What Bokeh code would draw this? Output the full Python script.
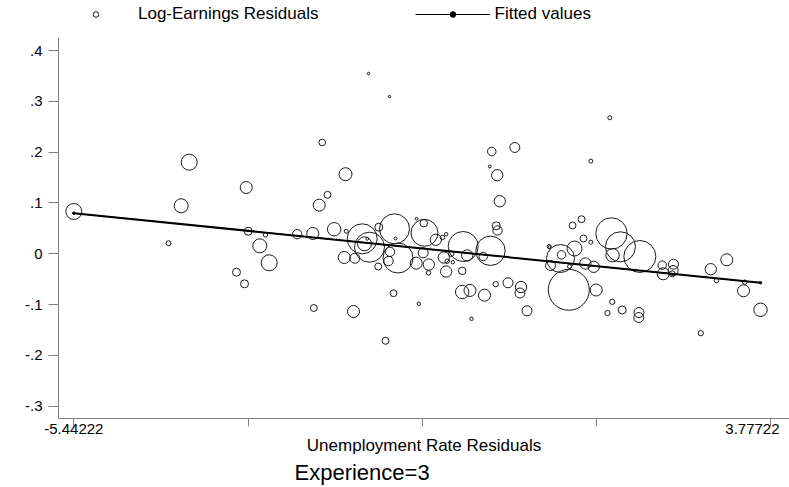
import math
from bokeh.plotting import figure
from bokeh.models import (FixedTicker, Legend, LegendItem, Range1d, ColumnDataSource,
                          LinearAxis, Title)
from bokeh.embed import file_html
from bokeh.resources import INLINE

# ---------------- data ----------------
unemp_resid = [
    -5.442, -3.916, -3.162, -4.022, -4.190, -3.136, -2.983, -3.291, -3.185,
    -2.157, -1.849, -2.087, -2.197, -2.907, -2.858, -2.488, -2.282, -1.999,
    -1.840, -1.628, -1.598, -1.562, -1.532, -1.201, -1.409, -1.188, -1.155,
    -1.866, -1.726, -1.417, -1.281, -1.261, -1.215, -2.268, -1.743, -1.320,
    -1.545, -1.267,
    0.085, 0.390, 0.059, 0.157, 0.191, 0.144, 0.161, -0.910, -0.814, -0.805,
    -0.655, -0.567, -0.518, -0.822, -0.914, -0.748, -0.752, -0.293, -0.549,
    -0.451, -0.504, -0.430, -0.240, -0.028, 0.068, -0.518, -0.306, -0.306,
    -0.203, -0.011, 0.138, 0.300, 0.472, 0.458, 0.551, -0.880, -0.183, 0.848,
    1.395, 1.272, 1.153, 1.298, 1.395, 0.844, 1.007, 0.994, 1.179, 0.862,
    1.113, 1.324, 1.434, 1.104, 1.466, 1.668, 1.787, 1.682, 2.043, 2.339,
    2.488, 2.352, 2.484, 2.471, 1.678, 1.810, 1.615, 2.032, 2.029, 1.646,
    3.193, 2.981, 3.057, 3.431, 3.414, 3.639, 2.849,
]
earn_resid = [
    0.0833, 0.1803, 0.1305, 0.0945, 0.0209, 0.0445, 0.0157, -0.0362, -0.0591,
    0.2191, 0.1567, 0.1161, 0.0957, 0.0374, -0.0177, 0.0386, 0.0400, 0.0484,
    0.0445, 0.0295, 0.0197, 0.0295, 0.0130, 0.0492, 0.0524, 0.0301, -0.0083,
    -0.0073, -0.0087, -0.0250, -0.0142, 0.0039, -0.0776, -0.1067, -0.1136, -0.1713,
    0.3549, 0.3096,
    0.2014, 0.2093, 0.1719, 0.1547, 0.1035, 0.0551, 0.0459, 0.0689, 0.0602, 0.0413,
    0.0276, 0.0321, 0.0386, 0.0020, -0.0185, -0.0211, -0.0374, 0.0144, -0.0073,
    0.0000, -0.0146, -0.0165, -0.0033, -0.0053, 0.0059, -0.0348, -0.0335, -0.0752,
    -0.0722, -0.0815, -0.0598, -0.0571, -0.0654, -0.0772, -0.1122, -0.0984, -0.1280, 0.0130,
    0.1823, 0.0681, 0.0557, 0.0301, 0.0228, 0.0144, -0.0020, -0.0093, 0.0104, -0.0230,
    -0.0250, -0.0191, -0.0256, -0.0709, -0.0713, 0.0400, 0.0138, -0.0028, -0.0053, -0.0224,
    -0.0205, -0.0394, -0.0329, -0.0394, -0.0945, -0.1106, -0.1165, -0.1156, -0.1254, 0.2677,
    -0.0118, -0.0303, -0.0526, -0.0559, -0.0728, -0.1102, -0.1563,
]
cell_weight = [
    64, 64, 36, 49, 6, 16, 49, 16, 16,
    11, 42, 12, 36, 5, 64, 22, 36, 45,
    4, 225, 49, 2, 225, 225, 16, 2, 225,
    36, 25, 12, 22, 22, 12, 12, 36, 12,
    1.5, 1.5,
    18, 25, 2, 32, 32, 16, 22, 2, 14, 182,
    32, 5, 3, 25, 36, 32, 5, 225, 32,
    7, 5, 3, 32, 18, 216, 32, 14, 45,
    36, 36, 7, 25, 32, 25, 25, 3, 3, 2,
    4, 12, 12, 12, 4, 4, 18, 196, 56, 25,
    4, 32, 32, 420, 36, 246, 225, 45, 256, 18,
    25, 36, 25, 9, 7, 16, 7, 25, 25, 4,
    36, 32, 5, 5, 36, 45, 7,
]

fitted_x = [-5.442, 3.639]
fitted_y = [0.080, -0.057]

x_tick_values = [-5.44222, -3.13736, -0.83250, 1.47236, 3.77722]
x_tick_labels = ["-5.44222", "", "", "", "3.77722"]
y_tick_values = [-0.3, -0.2, -0.1, 0, 0.1, 0.2, 0.3, 0.4]
y_tick_labels = ["-.3", "-.2", "-.1", "0", ".1", ".2", ".3", ".4"]

series_names = ["Log-Earnings Residuals", "Fitted values"]
x_title = "Unemployment Rate Residuals"
note_text = "Experience=3"

# ---------------- styling / layout ----------------
FONT = "Liberation Sans"
AX = "#808080"
X0, X1 = -5.6445, 4.0222
Y0, Y1 = -0.3242, 0.4986        # frame reaches the top of the page (legend lives there)
Y_AXIS_TOP = 0.4258             # visible end of the y axis line
RIGHT_LABEL_SHIFT = 0.245       # end label pulled left so it stays inside the page

p = figure(width=789, height=487, x_range=Range1d(X0, X1), y_range=Range1d(Y0, Y1),
           output_backend="svg", toolbar_location=None,
           min_border_left=58, min_border_right=0, min_border_top=0, min_border_bottom=69)
p.outline_line_color = None
p.grid.visible = False
p.background_fill_color = "white"
p.border_fill_color = "white"

sizes = [2 * math.sqrt(w) for w in cell_weight]
src = ColumnDataSource(dict(x=unemp_resid, y=earn_resid, s=sizes))
pts = p.scatter("x", "y", size="s", source=src, marker="circle", fill_color=None,
                line_color="#1a1a1a", line_width=1)
# thin copy of the fit + its points: they only give the legend its line-with-dot key
fit_thin = p.line(fitted_x, fitted_y, line_color="black", line_width=1)
fit_dots = p.scatter(fitted_x, fitted_y, marker="circle", size=2.5,
                     fill_color="black", line_color="black")
p.line(fitted_x, fitted_y, line_color="black", line_width=2)

def overrides(vals, labs):
    d = {}
    for v, l in zip(vals, labs):
        d[v] = l
        d[str(v)] = l
    return d

# main x axis: line and ticks only
xa = p.xaxis[0]
xa.ticker = FixedTicker(ticks=x_tick_values)
xa.major_label_overrides = overrides(x_tick_values, [""] * len(x_tick_values))
xa.minor_tick_line_color = None
xa.axis_line_color = AX
xa.major_tick_line_color = AX
xa.major_tick_out = 8
xa.major_tick_in = 0
xa.major_label_standoff = 0
xa.major_label_text_font_size = "1px"

# second x axis: end labels + title
lab_pos = [x_tick_values[0], x_tick_values[-1] - RIGHT_LABEL_SHIFT]
lab_txt = [x_tick_labels[0], x_tick_labels[-1]]
xa2 = LinearAxis(ticker=FixedTicker(ticks=lab_pos),
                 major_label_overrides=overrides(lab_pos, lab_txt),
                 axis_line_color=None, major_tick_line_color=None, minor_tick_line_color=None,
                 major_tick_out=0, major_tick_in=0, major_label_standoff=-3,
                 major_label_text_font=FONT, major_label_text_font_size="15px",
                 major_label_text_color="black",
                 axis_label=x_title, axis_label_standoff=-1,
                 axis_label_text_font=FONT, axis_label_text_font_size="17px",
                 axis_label_text_font_style="normal", axis_label_text_color="black")
p.add_layout(xa2, "below")

p.add_layout(Title(text=note_text, align="left", offset=236, standoff=0,
                   text_font=FONT, text_font_size="22px", text_font_style="normal",
                   text_color="black"), "below")

ya = p.yaxis[0]
ya.ticker = FixedTicker(ticks=y_tick_values)
ya.major_label_overrides = overrides(y_tick_values, y_tick_labels)
ya.bounds = (Y0, Y_AXIS_TOP)
ya.minor_tick_line_color = None
ya.axis_line_color = AX
ya.major_tick_line_color = AX
ya.major_tick_out = 10
ya.major_tick_in = 0
ya.major_label_standoff = 6
ya.major_label_text_font = FONT
ya.major_label_text_font_size = "15px"
ya.major_label_text_color = "black"

# legend at the top of the frame
legend = Legend(items=[LegendItem(label=series_names[0], renderers=[pts], index=4),
                       LegendItem(label=series_names[1], renderers=[fit_thin, fit_dots])],
                orientation="horizontal", location=(0, 394),
                padding=0, margin=0, spacing=96, glyph_width=75, glyph_height=14,
                label_height=14, label_standoff=5, border_line_color=None,
                background_fill_alpha=0, label_text_font=FONT, label_text_font_size="17px",
                label_text_color="black")
p.add_layout(legend)

open("out.html", "w").write(file_html(p, INLINE))
